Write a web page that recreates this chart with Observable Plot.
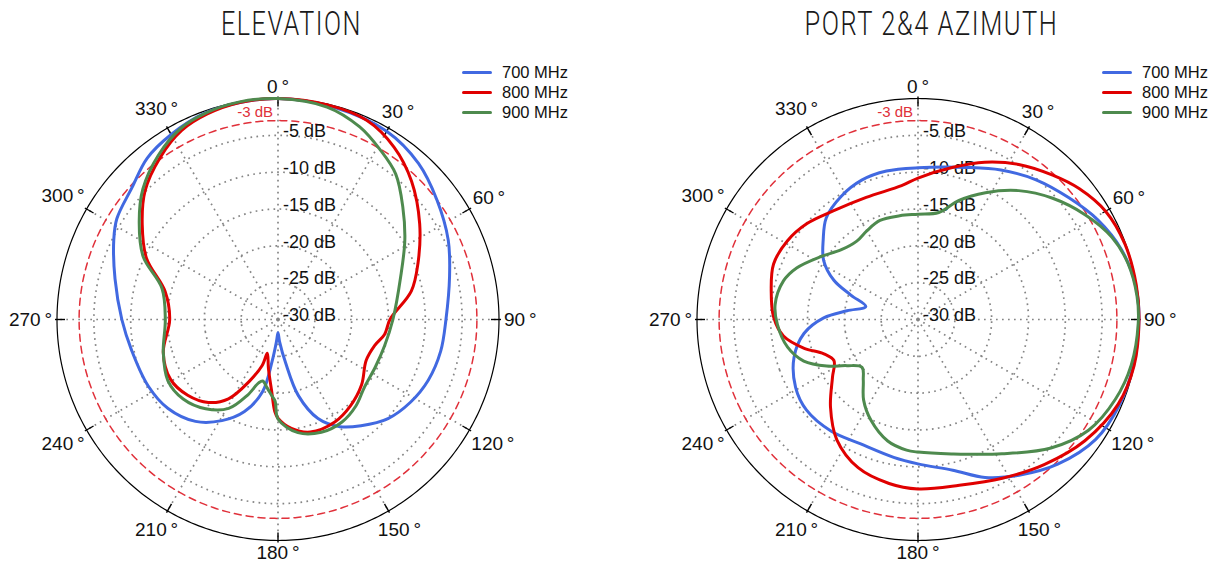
<!DOCTYPE html>
<html>
<head>
<meta charset="utf-8">
<script src="https://cdn.jsdelivr.net/npm/d3@7"></script>
<script src="https://cdn.jsdelivr.net/npm/@observablehq/plot@0.6"></script>
<style>
  html, body { margin: 0; padding: 0; background: #fff; }
  body { width: 1221px; height: 567px; overflow: hidden; position: relative; font-family: "Liberation Sans", Arial, sans-serif; }
  .panel { position: absolute; top: 0; width: 555px; height: 567px; overflow: visible; }
  .panel svg { position: absolute; left: 0; top: 50px; overflow: visible; }
  .title { position: absolute; left: 0; width: 582px; top: 4px; text-align: center; white-space: nowrap;
           font-family: Roboto, "Open Sans", sans-serif; font-weight: 300; font-size: 33px; letter-spacing: 2px; color: #1a1a1a; }
  .title span { display: inline-block; transform-origin: center center; }
  .legend { position: absolute; left: 462px; top: 62px; font-size: 16.5px; color: #111; }
  .legend .row { display: flex; align-items: center; height: 20.3px; white-space: nowrap; }
  .legend .sw { width: 30px; height: 3px; border-radius: 1.5px; margin-right: 10px; }
</style>
</head>
<body>
<div id="p1" class="panel" style="left:0px"></div>
<div id="p2" class="panel" style="left:640px"></div>
<script>
// ---------- data ----------
const titles = ["ELEVATION", "PORT 2&4 AZIMUTH"];
const frequencies = ["700 MHz", "800 MHz", "900 MHz"];
const colors = ["#4169e1", "#e00000", "#4e8a4e"];
const angleTicks = [0, 30, 60, 90, 120, 150, 180, 210, 240, 270, 300, 330];
const dbRings = [-5, -10, -15, -20, -25, -30];
const halfPowerDb = -3;

// Elevation pattern (angle in degrees clockwise from top, level in dB)
const elev700Angle = [0,15,30,42,53,65,76,90,101,112,122,132,142,150,158,165,170,176,180,184,188,192,200,209,219,231,243,258,270,284,296,302,312,321,330,340,350];
const elev700Db    = [0,-0.2,-0.5,-1.5,-3.0,-4.5,-6.0,-7.2,-7.5,-8.0,-8.8,-9.9,-11.7,-13.2,-15.5,-19.3,-24.0,-27.0,-28.2,-27.0,-24.3,-20.0,-16.7,-14.3,-12.2,-10.8,-10.2,-9.7,-8.8,-7.2,-5.2,-4.2,-3.3,-1.8,-1.0,-0.3,-0.1];
const elev800Angle = [0,13,24,34,44,56,68,78,90,98,105,115,128,140,151,164,173,180,182,185,191,197.6,199,205,212,220,230,241,254,270,284,295,305,314,324,333,341,350];
const elev800Db    = [0,-0.1,-0.4,-1.8,-3.9,-6.8,-9.5,-11.5,-14.8,-15.4,-16.4,-16.8,-15.6,-14.7,-14.1,-14.1,-15.1,-16.6,-17.5,-20.2,-23.2,-25.2,-23.4,-20.7,-17.3,-15.3,-14.0,-13.3,-13.8,-15.3,-14.2,-10.3,-7.5,-4.9,-2.8,-1.2,-0.5,-0.1];
const elev900Angle = [0,13,23,31,39,48,58,71,90,104,116,128,138,148,159,170,180,182,185,189,194,197,202,209,219,230,241,254,270,285,295,305,314,324,333,341,350];
const elev900Db    = [0,-0.4,-1.6,-3.1,-4.6,-7.2,-9.7,-12.4,-14.4,-15.1,-15.3,-15.1,-14.2,-13.6,-13.6,-14.4,-16.5,-18.9,-19.7,-20.6,-21.4,-21.0,-18.9,-16.2,-14.4,-13.2,-12.9,-13.8,-14.7,-13.7,-9.8,-7.0,-4.5,-2.4,-0.9,-0.3,0];

// Azimuth pattern, ports 2 & 4
const azim700Angle = [0,18,29,40,51,61,71,81,90,102,113,124,136,147,157,167,180,190,205,218,231,241,253,263,271,277,284,290,295,302,310,318,328,338,348];
const azim700Db    = [-9.4,-8.3,-6.8,-5.2,-3.7,-2.1,-0.8,-0.1,0,-0.1,-0.3,-0.9,-2.7,-4.8,-6.7,-9.0,-10.4,-11.0,-11.4,-10.8,-10.5,-11.0,-12.4,-14.4,-17.2,-20.3,-22.7,-20.3,-17.4,-14.9,-13.2,-11.4,-10.3,-9.6,-9.4];
const azim800Angle = [0,13,23,33,43,51,60,70,81,90,102,113,126,139,152,166,180,190,202,214,225,236,244,250,256,263,271,281,291,301,311,322,337,353];
const azim800Db    = [-10.8,-8.8,-6.8,-4.9,-3.2,-1.8,-0.6,-0.1,0,0,0,-0.5,-2.0,-3.9,-5.6,-6.8,-7.0,-7.4,-8.3,-10.3,-13.2,-16.0,-17.3,-16.4,-14.0,-11.6,-10.4,-9.7,-9.0,-9.3,-10.1,-11.3,-12.0,-11.7];
const azim900Angle = [0,11,19,28,38,48,58,67,75,84,91,102,112,123,134,148,166,180,185,194,205,214,222,229.5,237,243,250,258,268,276,286,293,303,312,322,330,339,350];
const azim900Db    = [-15.7,-15.2,-12.9,-10.5,-7.8,-5.4,-3.2,-1.4,-0.5,-0.1,-0.1,-0.4,-1.1,-2.4,-4.9,-8.5,-11.2,-12.0,-12.2,-13.0,-14.9,-16.8,-18.9,-20.0,-18.5,-16.1,-13.5,-11.9,-10.9,-10.5,-11.0,-12.1,-14.3,-15.9,-16.5,-16.1,-15.6,-15.7];

// ---------- helpers ----------
function rows(series) {
  return series.flatMap(([freq, angles, dbs]) => angles.map((a, i) => ({freq, angle: a, db: dbs[i]})));
}
const elevRows = rows([["700 MHz", elev700Angle, elev700Db], ["800 MHz", elev800Angle, elev800Db], ["900 MHz", elev900Angle, elev900Db]]);
const azimRows = rows([["700 MHz", azim700Angle, azim700Db], ["800 MHz", azim800Angle, azim800Db], ["900 MHz", azim900Angle, azim900Db]]);

const FULL = 30;                       // arc degrees used for the 0 dB circle (dB range -30..0)
const lon = a => 180 - a;              // compass angle -> longitude (0 at top, clockwise)
const latDb = db => 90 - (db + 30);     // dB -> latitude (pole = -30 dB)
const ring = r => d3.geoCircle().center([0, 90]).radius(r).precision(1)();
const R_PX = 221, PX_PER_DEG = R_PX / FULL;
const LABEL_SIZE = 19;

function labelText(a) { return a + "\u2009°"; }
function labelLat(a) {
  const t = a * Math.PI / 180;
  const w = String(a).length * 0.556 * LABEL_SIZE + 0.6 * LABEL_SIZE;
  const px = 226 - R_PX + (w / 2) * Math.abs(Math.sin(t)) + 7 * Math.abs(Math.cos(t));
  return 90 - (FULL + px / PX_PER_DEG);
}

function polar(data) {
  return Plot.plot({
    width: 555, height: 517,
    marginLeft: 56.5, marginRight: 56.5, marginTop: 48, marginBottom: 27,
    style: {fontFamily: "Liberation Sans, Arial, sans-serif", background: "transparent", overflow: "visible"},
    projection: {type: "azimuthal-equidistant", rotate: [0, -90], domain: ring(FULL), clip: false},
    color: {domain: frequencies, range: colors},
    marks: [
      // dotted dB rings
      Plot.geo(dbRings.filter(d => d > -30), {geometry: d => ring(d + 30), stroke: "#858585", strokeWidth: 1.7, strokeDasharray: "1.7,4.3", strokeLinecap: "butt"}),
      // dotted spokes
      Plot.link(angleTicks, {x1: a => lon(a), y1: 90, x2: a => lon(a), y2: 90 - FULL, stroke: "#858585", strokeWidth: 1.7, strokeDasharray: "1.7,4.3", strokeLinecap: "butt"}),
      // -3 dB ring
      Plot.geo([halfPowerDb], {geometry: d => ring(d + 30), stroke: "#e0303a", strokeWidth: 1.5, strokeDasharray: "7,5"}),
      // outer circle
      Plot.geo([0], {geometry: d => ring(d + 30), stroke: "#000", strokeWidth: 1.2}),
      // tick marks
      Plot.link(angleTicks, {x1: a => lon(a), y1: 90 - (FULL - 8 / PX_PER_DEG), x2: a => lon(a), y2: 90 - (FULL + 2 / PX_PER_DEG), stroke: "#000", strokeWidth: 1.4}),
      // angle labels
      Plot.text(angleTicks, {x: a => lon(a), y: a => labelLat(a), text: labelText, fontSize: LABEL_SIZE, fill: "#111"}),
      // dB labels
      Plot.text(dbRings, {x: 180, y: d => latDb(d), text: d => d + " dB", textAnchor: "start", dx: 5, dy: -4, fontSize: 18, fill: "#111"}),
      Plot.text([halfPowerDb], {x: 180, y: d => latDb(d), text: d => d + " dB", textAnchor: "end", dx: -5, dy: -8, fontSize: 15, fill: "#e0303a"}),
      // pattern curves
      Plot.line(data, {x: d => lon(d.angle), y: d => latDb(d.db), z: "freq", stroke: "freq", strokeWidth: 3, curve: "catmull-rom-closed"})
    ]
  });
}

function panel(id, title, data) {
  const el = document.getElementById(id);
  const t = document.createElement("div");
  t.className = "title";
  const s = document.createElement("span");
  s.textContent = title;
  t.appendChild(s);
  el.appendChild(t);
  el.appendChild(polar(data));
  const lg = document.createElement("div");
  lg.className = "legend";
  frequencies.forEach((f, i) => {
    const r = document.createElement("div");
    r.className = "row";
    r.innerHTML = `<div class="sw" style="background:${colors[i]}"></div><span>${f}</span>`;
    lg.appendChild(r);
  });
  el.appendChild(lg);
  return s;
}

const spans = [panel("p1", titles[0], elevRows), panel("p2", titles[1], azimRows)];
// condense titles to the reference widths
const targetWidths = [141, 254];
spans.forEach((s, i) => {
  const w = s.getBoundingClientRect().width;
  if (w > 0) s.style.transform = `scaleX(${targetWidths[i] / w})`;
});
</script>
</body>
</html>
